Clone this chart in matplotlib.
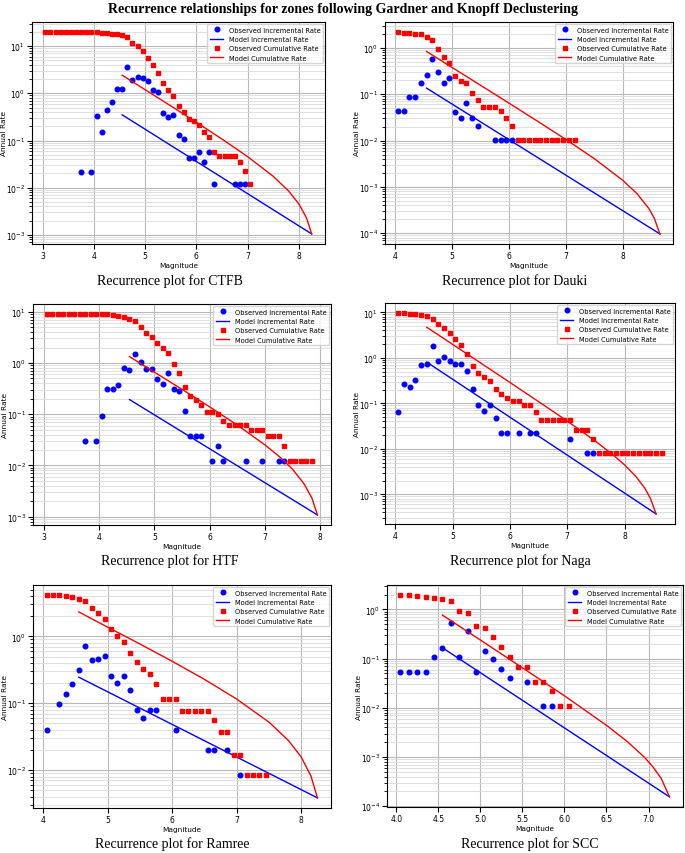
import matplotlib
matplotlib.use('Agg')
import matplotlib.pyplot as plt

# ---- CTFB ----
ctfb_inc_m = [3.75, 3.95, 4.05, 4.15, 4.25, 4.35, 4.45, 4.55, 4.65, 4.75, 4.85, 4.95, 5.05, 5.15,
              5.25, 5.35, 5.45, 5.55, 5.65, 5.75, 5.85, 5.95, 6.05, 6.15, 6.25, 6.35, 6.75, 6.85, 6.95]
ctfb_inc_r = [0.0217, 0.0217, 0.328, 0.153, 0.44, 0.64, 1.22, 1.25, 3.65, 1.93, 2.17, 2.1, 1.78, 1.15,
              1.06, 0.386, 0.318, 0.344, 0.13, 0.108, 0.043, 0.043, 0.058, 0.035, 0.058, 0.0119, 0.0119,
              0.0119, 0.0119]
ctfb_cum_m = [3.05, 3.15, 3.25, 3.35, 3.45, 3.55, 3.65, 3.75, 3.85, 3.95, 4.05, 4.15, 4.25, 4.35,
              4.45, 4.55, 4.65, 4.75, 4.85, 4.95, 5.05, 5.15, 5.25, 5.35, 5.45, 5.55, 5.65, 5.75,
              5.85, 5.95, 6.05, 6.15, 6.25, 6.35, 6.45, 6.55, 6.65, 6.75, 6.85, 6.95, 7.05]
ctfb_cum_r = [19.8, 19.8, 19.8, 19.8, 19.8, 19.8, 19.8, 19.8, 19.8, 19.8, 19.8, 18.9, 18.9, 18.2,
              17.9, 17.1, 15.8, 11.8, 10.2, 7.7, 5.57, 3.89, 2.72, 1.62, 1.2, 0.885, 0.543, 0.405,
              0.292, 0.253, 0.211, 0.153, 0.116, 0.0575, 0.0466, 0.0466, 0.0466, 0.0466, 0.0348,
              0.0231, 0.0117]
ctfb_mod_m = [4.55, 8.25]
ctfb_mod_inc = [0.35, 0.00105]
ctfb_modc_m = [4.55, 5.0, 5.5, 6.0, 6.5, 7.0, 7.5, 7.8, 8.0, 8.15, 8.25]
ctfb_mod_cum = [2.42, 1.19, 0.540, 0.243, 0.107, 0.0455, 0.0174, 0.0085, 0.00453, 0.00228, 0.00105]

# ---- Dauki ----
dauki_inc_m = [4.05, 4.15, 4.25, 4.35, 4.45, 4.55, 4.65, 4.75, 4.85, 4.95, 5.05, 5.15, 5.25, 5.35,
               5.45, 5.75, 5.85, 5.95, 6.05]
dauki_inc_r = [0.043, 0.043, 0.086, 0.086, 0.176, 0.261, 0.56, 0.303, 0.176, 0.218, 0.042, 0.0313,
               0.063, 0.0313, 0.021, 0.0105, 0.0105, 0.0105, 0.0105]
dauki_cum_m = [4.05, 4.15, 4.25, 4.35, 4.45, 4.55, 4.65, 4.75, 4.85, 4.95, 5.05, 5.15, 5.25, 5.35,
               5.45, 5.55, 5.65, 5.75, 5.85, 5.95, 6.05, 6.15, 6.25, 6.35, 6.45, 6.55, 6.65, 6.75,
               6.85, 6.95, 7.05, 7.15]
dauki_cum_r = [2.18, 2.11, 2.11, 1.97, 1.94, 1.73, 1.49, 0.92, 0.63, 0.467, 0.245, 0.197, 0.17, 0.105,
               0.0743, 0.0516, 0.0516, 0.0516, 0.0423, 0.0309, 0.021, 0.0105, 0.0105, 0.0105, 0.0105,
               0.0105, 0.0105, 0.0105, 0.0105, 0.0105, 0.0105, 0.0105]
dauki_mod_m = [4.55, 8.65]
dauki_mod_inc = [0.135, 9.7e-5]
dauki_modc_m = [4.55, 5.0, 5.5, 6.0, 6.5, 7.0, 7.5, 8.0, 8.25, 8.45, 8.55, 8.65]
dauki_mod_cum = [0.833, 0.376, 0.155, 0.0639, 0.0261, 0.0105, 0.00405, 0.00138, 0.00071, 0.00035,
                 0.000213, 9.7e-5]

# ---- HTF ----
htf_inc_m = [3.75, 3.95, 4.05, 4.15, 4.25, 4.35, 4.45, 4.55, 4.65, 4.75, 4.85, 4.95, 5.05, 5.15,
             5.25, 5.35, 5.45, 5.55, 5.65, 5.75, 5.85, 6.05, 6.15, 6.25, 6.65, 6.95, 7.25, 7.35]
htf_inc_r = [0.0303, 0.0303, 0.0914, 0.307, 0.307, 0.373, 0.81, 0.74, 1.52, 1.03, 0.776, 0.753, 0.48,
             0.384, 0.63, 0.307, 0.289, 0.114, 0.0378, 0.0378, 0.0378, 0.0121, 0.0242, 0.0121, 0.0121,
             0.0121, 0.0121, 0.0121]
htf_cum_m = [3.05, 3.15, 3.25, 3.35, 3.45, 3.55, 3.65, 3.75, 3.85, 3.95, 4.05, 4.15, 4.25, 4.35,
             4.45, 4.55, 4.65, 4.75, 4.85, 4.95, 5.05, 5.15, 5.25, 5.35, 5.45, 5.55, 5.65, 5.75,
             5.85, 5.95, 6.05, 6.15, 6.25, 6.35, 6.45, 6.55, 6.65, 6.75, 6.85, 6.95, 7.05, 7.15,
             7.25, 7.35, 7.45, 7.55, 7.65, 7.75, 7.85]
htf_cum_r = [9.0, 9.0, 9.0, 9.0, 9.0, 9.0, 9.0, 9.0, 9.0, 9.0, 9.0, 9.0, 8.6, 8.24, 8.0, 7.2, 6.48,
             4.96, 3.9, 3.16, 2.42, 1.93, 1.54, 0.94, 0.63, 0.336, 0.224, 0.19, 0.148, 0.109, 0.109,
             0.0986, 0.074, 0.061, 0.061, 0.061, 0.061, 0.0488, 0.0488, 0.0488, 0.0367, 0.0367,
             0.0367, 0.0242, 0.012, 0.012, 0.012, 0.012, 0.012]
htf_mod_m = [4.55, 7.95]
htf_mod_inc = [0.193, 0.00108]
htf_modc_m = [4.55, 5.0, 5.5, 6.0, 6.5, 7.0, 7.3, 7.5, 7.7, 7.85, 7.95]
htf_mod_cum = [1.33, 0.662, 0.305, 0.139, 0.0613, 0.0252, 0.0137, 0.0084, 0.0045, 0.00231, 0.00108]

# ---- Naga ----
naga_inc_m = [4.05, 4.15, 4.25, 4.35, 4.45, 4.55, 4.65, 4.75, 4.85, 4.95, 5.05, 5.15, 5.25, 5.35,
              5.45, 5.55, 5.65, 5.75, 5.85, 5.95, 6.15, 6.35, 6.45, 7.05, 7.35, 7.45]
naga_inc_r = [0.0646, 0.26, 0.224, 0.324, 0.703, 0.715, 1.83, 0.86, 1.07, 0.874, 0.74, 0.715, 0.51,
              0.209, 0.0904, 0.069, 0.092, 0.047, 0.0228, 0.0228, 0.0228, 0.0228, 0.0228, 0.0166,
              0.0083, 0.0083]
naga_cum_m = [4.05, 4.15, 4.25, 4.35, 4.45, 4.55, 4.65, 4.75, 4.85, 4.95, 5.05, 5.15, 5.25, 5.35,
              5.45, 5.55, 5.65, 5.75, 5.85, 5.95, 6.05, 6.15, 6.25, 6.35, 6.45, 6.55, 6.65, 6.75,
              6.85, 6.95, 7.05, 7.15, 7.25, 7.35, 7.45, 7.55, 7.65, 7.75, 7.85, 7.95, 8.05, 8.15,
              8.25, 8.35, 8.45, 8.55, 8.65]
naga_cum_r = [9.67, 9.67, 9.35, 9.2, 8.9, 8.17, 7.26, 5.46, 4.61, 3.47, 2.65, 1.89, 1.2, 0.657,
              0.461, 0.371, 0.303, 0.206, 0.16, 0.133, 0.114, 0.114, 0.0904, 0.0904, 0.0657, 0.0425,
              0.0425, 0.0425, 0.0425, 0.0425, 0.0425, 0.0256, 0.0256, 0.0256, 0.0168, 0.0083, 0.0083,
              0.0083, 0.0083, 0.0083, 0.0083, 0.0083, 0.0083, 0.0083, 0.0083, 0.0083, 0.0083]
naga_mod_m = [4.55, 8.55]
naga_mod_inc = [0.804, 0.00037]
naga_modc_m = [4.55, 5.0, 5.5, 6.0, 6.5, 7.0, 7.5, 7.8, 8.0, 8.2, 8.35, 8.45, 8.55]
naga_mod_cum = [4.70, 1.98, 0.756, 0.288, 0.109, 0.0408, 0.0145, 0.00734, 0.00444, 0.00245, 0.00138,
                0.00082, 0.00037]

# ---- Ramree ----
ramree_inc_m = [4.05, 4.25, 4.35, 4.45, 4.55, 4.65, 4.75, 4.85, 4.95, 5.05, 5.15, 5.25, 5.35, 5.45,
                5.55, 5.65, 5.75, 6.05, 6.55, 6.65, 6.85, 7.05]
ramree_inc_r = [0.0395, 0.098, 0.137, 0.196, 0.315, 0.707, 0.436, 0.456, 0.512, 0.253, 0.199, 0.253,
                0.158, 0.079, 0.0591, 0.079, 0.079, 0.0395, 0.0198, 0.0198, 0.0198, 0.0084]
ramree_cum_m = [4.05, 4.15, 4.25, 4.35, 4.45, 4.55, 4.65, 4.75, 4.85, 4.95, 5.05, 5.15, 5.25, 5.35,
                5.45, 5.55, 5.65, 5.75, 5.85, 5.95, 6.05, 6.15, 6.25, 6.35, 6.45, 6.55, 6.65, 6.75,
                6.85, 6.95, 7.05, 7.15, 7.25, 7.35, 7.45]
ramree_cum_r = [4.14, 4.14, 4.14, 4.04, 3.86, 3.68, 3.36, 2.67, 2.24, 1.8, 1.27, 1.02, 0.832, 0.561,
                0.411, 0.327, 0.271, 0.192, 0.114, 0.114, 0.114, 0.0754, 0.0754, 0.0754, 0.0754,
                0.0754, 0.0558, 0.0368, 0.0368, 0.017, 0.017, 0.0084, 0.0084, 0.0084, 0.0084]
ramree_mod_m = [4.55, 8.25]
ramree_mod_inc = [0.245, 0.00384]
ramree_modc_m = [4.55, 5.0, 5.5, 6.0, 6.5, 7.0, 7.5, 7.8, 8.0, 8.15, 8.25]
ramree_mod_cum = [2.32, 1.37, 0.767, 0.423, 0.227, 0.115, 0.052, 0.0277, 0.0156, 0.0081, 0.00384]

# ---- SCC ----
scc_inc_m = [4.05, 4.15, 4.25, 4.35, 4.45, 4.55, 4.65, 4.75, 4.85, 4.95, 5.05, 5.15, 5.25, 5.35,
             5.55, 5.75, 5.85]
scc_inc_r = [0.0531, 0.0531, 0.0531, 0.0531, 0.1057, 0.161, 0.536, 0.1057, 0.368, 0.0531, 0.142,
             0.1007, 0.061, 0.0407, 0.0333, 0.0111, 0.0111]
scc_cum_m = [4.05, 4.15, 4.25, 4.35, 4.45, 4.55, 4.65, 4.75, 4.85, 4.95, 5.05, 5.15, 5.25, 5.35,
             5.45, 5.55, 5.65, 5.75, 5.85, 5.95, 6.05]
scc_cum_r = [1.96, 1.93, 1.87, 1.81, 1.75, 1.65, 1.48, 0.94, 0.842, 0.466, 0.411, 0.27, 0.169, 0.106,
             0.0682, 0.0682, 0.0333, 0.0333, 0.0225, 0.0111, 0.0111]
scc_mod_m = [4.55, 7.25]
scc_mod_inc = [0.166, 0.000155]
scc_modc_m = [4.55, 5.0, 5.5, 6.0, 6.5, 6.75, 6.95, 7.05, 7.15, 7.25]
scc_mod_cum = [0.766, 0.2394, 0.0654, 0.0176, 0.00442, 0.00205, 0.000996, 0.00064, 0.00037, 0.000155]

zones = ['CTFB', 'Dauki', 'HTF', 'Naga', 'Ramree', 'SCC']
panels = [
    (ctfb_inc_m, ctfb_inc_r, ctfb_cum_m, ctfb_cum_r, ctfb_mod_m, ctfb_mod_inc, ctfb_modc_m, ctfb_mod_cum),
    (dauki_inc_m, dauki_inc_r, dauki_cum_m, dauki_cum_r, dauki_mod_m, dauki_mod_inc, dauki_modc_m, dauki_mod_cum),
    (htf_inc_m, htf_inc_r, htf_cum_m, htf_cum_r, htf_mod_m, htf_mod_inc, htf_modc_m, htf_mod_cum),
    (naga_inc_m, naga_inc_r, naga_cum_m, naga_cum_r, naga_mod_m, naga_mod_inc, naga_modc_m, naga_mod_cum),
    (ramree_inc_m, ramree_inc_r, ramree_cum_m, ramree_cum_r, ramree_mod_m, ramree_mod_inc, ramree_modc_m, ramree_mod_cum),
    (scc_inc_m, scc_inc_r, scc_cum_m, scc_cum_r, scc_mod_m, scc_mod_inc, scc_modc_m, scc_mod_cum),
]

# pixel boxes (left, top, right, bottom) and caption centres
W, H = 685, 854
boxes = [(32, 23, 325, 245), (385, 23, 673, 245),
         (33, 305, 331, 526), (385, 304, 675, 525),
         (33, 586, 331, 809), (387, 586, 683, 808)]
cap_pos = [(170, 281), (515, 281), (170, 561), (520, 561), (172, 844), (530, 844)]

fig = plt.figure(figsize=(W / 100, H / 100), dpi=100)

for i, zone in enumerate(zones):
    inc_m, inc_r, cum_m, cum_r, mod_m, mod_inc, modc_m, mod_cum = panels[i]
    l, t, r, b = boxes[i]
    ax = fig.add_axes([l / W, 1 - b / H, (r - l) / W, (b - t) / H])
    ax.plot(inc_m, inc_r, 'bo', ms=3.3, label='Observed Incremental Rate')
    ax.plot(mod_m, mod_inc, 'b-', lw=1, label='Model Incremental Rate')
    ax.plot(cum_m, cum_r, 'rs', ms=3.3, label='Observed Cumulative Rate')
    ax.plot(modc_m, mod_cum, 'r-', lw=1, label='Model Cumulative Rate')
    ax.set_yscale('log')
    ax.grid(True, which='major', color='#b8b8b8', lw=0.8)
    ax.grid(True, which='minor', color='#dadada', lw=0.6)
    ax.set_axisbelow(True)
    ax.set_xlabel('Magnitude', fontsize=5.3, labelpad=1.5)
    ax.set_ylabel('Annual Rate', fontsize=5.3)
    # put the y label just inside the figure edge like the original
    ax.yaxis.set_label_coords(-25 / (r - l), 0.5)
    ax.tick_params(labelsize=5.5, pad=1.5)
    ax.legend(loc='upper right', fontsize=4.8, borderaxespad=0.3)
    cx, cy = cap_pos[i]
    fig.text(cx / W, 1 - cy / H, 'Recurrence plot for ' + zone, ha='center', va='center',
             family='Liberation Serif', fontsize=10)

fig.text(0.5, 1 - 9 / H, 'Recurrence relationships for zones following Gardner and Knopff Declustering',
         ha='center', va='center', family='Liberation Serif', fontweight='bold', fontsize=10)

fig.savefig('out.png', dpi=100)
